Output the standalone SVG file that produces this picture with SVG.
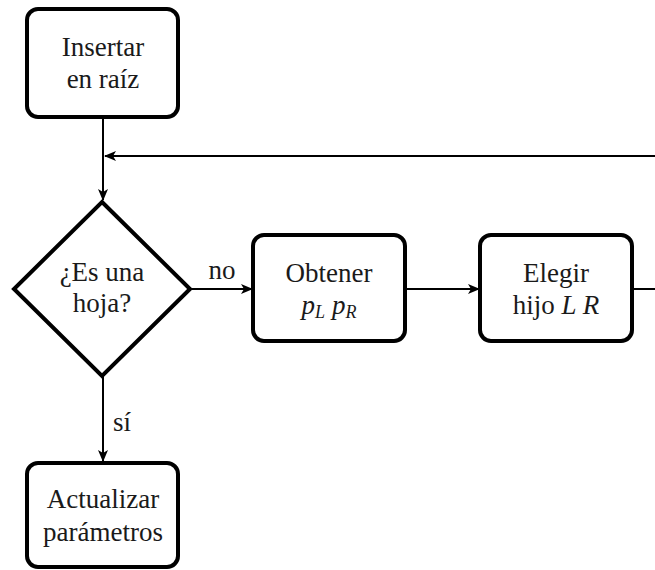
<svg xmlns="http://www.w3.org/2000/svg" width="655" height="570" viewBox="0 0 655 570">
<style>
.box{fill:#fff;stroke:#000;stroke-width:4}
.t{font-size:27px;fill:#1a1a1a;text-anchor:middle}
.i{font-style:italic}
.s{font-size:18px;font-style:italic}
.c{stroke:#000;stroke-width:2;fill:none}
</style>
<defs>
<marker id="ah" viewBox="0 0 12 10" refX="11" refY="5" markerWidth="12" markerHeight="10" markerUnits="userSpaceOnUse" orient="auto">
<path d="M0,0 L12,5 L0,10 L3,5 Z" fill="#000"/>
</marker>
</defs>
<g id="connectors">
<line class="c" x1="103" y1="117" x2="103" y2="200" marker-end="url(#ah)"/>
<line class="c" x1="655" y1="156" x2="105" y2="156" marker-end="url(#ah)"/>
<line class="c" x1="190" y1="289" x2="252" y2="289" marker-end="url(#ah)"/>
<text class="t" font-family="Liberation Serif" x="222" y="279">no</text>
<line class="c" x1="405" y1="289" x2="479" y2="289" marker-end="url(#ah)"/>
<line class="c" x1="632" y1="289" x2="655" y2="289"/>
<line class="c" x1="103" y1="376" x2="103" y2="461" marker-end="url(#ah)"/>
<text class="t" font-family="Liberation Serif" x="122" y="431">s&#237;</text>
</g>
<g id="n1">
<rect class="box" x="27" y="9" width="151" height="108" rx="11"/>
<text class="t" font-family="Liberation Serif" x="103" y="56">Insertar</text>
<text class="t" font-family="Liberation Serif" x="103" y="88">en ra&#237;z</text>
</g>
<g id="n2">
<polygon class="box" points="102,202 190,289 102,376 14,289"/>
<text class="t" font-family="Liberation Serif" x="102" y="281">&#191;Es una</text>
<text class="t" font-family="Liberation Serif" x="102" y="312">hoja?</text>
</g>
<g id="n3">
<rect class="box" x="253" y="235" width="152" height="106" rx="11"/>
<text class="t" font-family="Liberation Serif" x="329" y="282">Obtener</text>
<text class="t" font-family="Liberation Serif" x="329" y="314"><tspan class="i">p</tspan><tspan class="s" dy="4">L</tspan><tspan dy="-4"> </tspan><tspan class="i">p</tspan><tspan class="s" dy="4">R</tspan></text>
</g>
<g id="n4">
<rect class="box" x="480" y="235" width="152" height="106" rx="11"/>
<text class="t" font-family="Liberation Serif" x="556" y="282">Elegir</text>
<text class="t" font-family="Liberation Serif" x="556" y="314">hijo <tspan class="i">L R</tspan></text>
</g>
<g id="n5">
<rect class="box" x="27" y="463" width="151" height="104" rx="11"/>
<text class="t" font-family="Liberation Serif" x="103" y="508">Actualizar</text>
<text class="t" font-family="Liberation Serif" x="103" y="541">par&#225;metros</text>
</g>
</svg>
